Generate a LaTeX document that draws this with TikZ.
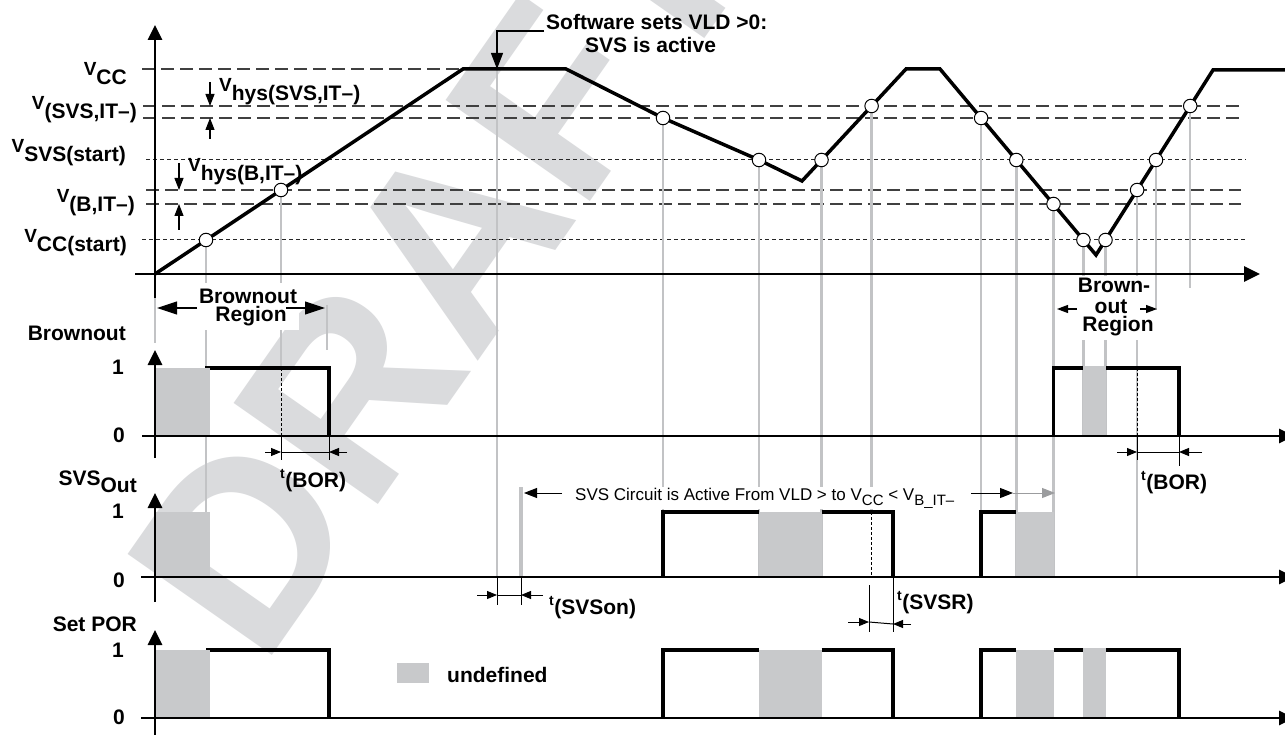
\documentclass[tikz,border=0pt]{standalone}
\usepackage{fontspec}
\setmainfont{Liberation Sans}
\usetikzlibrary{arrows.meta,calc}
\definecolor{ugray}{HTML}{C8C9CB}
\definecolor{lgray}{HTML}{C2C3C5}
\definecolor{wgray}{HTML}{DADBDD}
\newcommand\Vlab[1]{{\fontsize{19}{19}\selectfont V}\raisebox{-9pt}{#1}}
\newcommand\tlab[1]{\raisebox{9pt}{\fontsize{14}{14}\selectfont t}\kern0.5pt(#1)}
\begin{document}
\begin{tikzpicture}[x=1pt,y=-1pt,
  lbl/.style={font=\bfseries\fontsize{21}{21}\selectfont, inner sep=0pt},
  reg/.style={font=\fontsize{17}{17}\selectfont, inner sep=1pt},
  wave/.style={line width=3.5pt, line join=miter},
  sig/.style={line width=3.3pt, line join=miter},
  axisline/.style={line width=2.7pt, -{Triangle[length=15pt,width=14pt]}},
  lvl/.style={black!75, line width=1.3pt, dash pattern=on 13pt off 6pt},
  lvldot/.style={black!85, line width=1pt, dash pattern=on 4pt off 3pt},
  gl/.style={lgray, line width=2.4pt},
  tickline/.style={black, line width=1pt},
  dashedge/.style={black, line width=1pt, dash pattern=on 3pt off 2pt},
  cpt/.style={circle, draw=black, fill=white, line width=1pt, minimum size=13.5pt, inner sep=0pt},
  dimarrow/.style={line width=1pt, -{Triangle[length=10pt,width=8pt]}},
  hysarrow/.style={line width=1.1pt, -{Triangle[length=12pt,width=9pt]}},
  bigarrow/.style={line width=1.2pt, -{Triangle[length=20pt,width=13pt]}},
  smarrow/.style={line width=1.1pt, -{Triangle[length=11pt,width=8pt]}},
  carrow/.style={line width=1pt, -{Triangle[length=13pt,width=10pt]}},
]
\useasboundingbox (0,0) rectangle (1285,735);
\clip (0,0) rectangle (1285,735);
\fill[white] (0,0) rectangle (1285,735);
% watermark
\node[font=\bfseries\fontsize{256}{256}\selectfont, text=wgray, rotate=55, inner sep=0pt] (wm) at (439,264) {DRAFT};

% level coordinates
\coordinate (bo1) at (0,368); \coordinate (bo0) at (0,436);
\coordinate (sv1) at (0,512); \coordinate (sv0) at (0,577);
\coordinate (po1) at (0,650); \coordinate (po0) at (0,718);
% waveform vertices
\coordinate (w0) at (155,274); \coordinate (w1) at (463,69); \coordinate (w2) at (566,69);
\coordinate (w3) at (802,181); \coordinate (w4) at (906,69); \coordinate (w5) at (940,69);
\coordinate (w6) at (1096,255); \coordinate (w7) at (1213,70); \coordinate (w8) at (1295,70);
% crossing points
\coordinate (c1) at (206,240); \coordinate (c2) at (281,190);
\coordinate (c3) at (663,118); \coordinate (c4) at (759,160);
\coordinate (c5) at (821.5,160); \coordinate (c6) at (871.6,106);
\coordinate (c7) at (981.1,118); \coordinate (c8) at (1016.3,160);
\coordinate (c9) at (1053.5,204); \coordinate (c10) at (1083.4,240);
\coordinate (c11) at (1105.5,240); \coordinate (c12) at (1137.1,190);
\coordinate (c13) at (1156,160); \coordinate (c14) at (1190.2,106);
\coordinate (e13) at (0,310); \coordinate (e14) at (0,288);
\coordinate (swt) at (497,69); \coordinate (gb) at (210,0);
\coordinate (f0) at (329,0); \coordinate (f1) at (893,0); \coordinate (f2) at (1179,0);

% level lines
\draw[lvl] (142,69) -- (w1);
\draw[lvl] (143,106) -- (1241,106);
\draw[lvl] (143,118) -- (1241,118);
\draw[lvldot] (146,160) -- (1246,160);
\draw[lvl] (146,190) -- (1241,190);
\draw[lvl] (146,204) -- (1241,204);
\draw[lvldot] (142,240) -- (1246,240);

% gray guide lines
\foreach \c/\e in {c1/sv1, c2/bo1, c3/sv1, c4/sv0, c5/sv0, c6/sv1, c7/sv0, c8/sv0, c9/sv0, c10/bo0, c11/bo0, c12/sv0, c13/e13, c14/e14}
  \draw[gl] (\c) -- (\c |- \e);
\draw[gl] (swt) -- (swt |- sv0);
\draw[gl] (155,290) -- (155,343);
\draw[gl] (327,305) -- (327,350);
\draw[lgray, line width=4pt] (521,487) -- (521,577);

% white backgrounds of the region labels
\fill[white] (196,283) rectangle (299,330);
\fill[white] (1074,276) rectangle (1154,340);

% waveform
\draw[wave] (w0) -- (w1) -- (w2) -- (c3) -- (c4) -- (w3) -- (w4) -- (w5) -- (w6) -- (w7) -- (w8);
\foreach \c in {c1,c2,c3,c4,c5,c6,c7,c8,c9,c10,c11,c12,c13,c14}
  \node[cpt] (p\c) at (\c) {};

% hysteresis arrows
\coordinate (h1a) at (210,82); \coordinate (h1b) at (210,106);
\coordinate (h1c) at (210,139); \coordinate (h1d) at (210,118);
\coordinate (h2a) at (179,163); \coordinate (h2b) at (179,190);
\coordinate (h2c) at (179,230); \coordinate (h2d) at (179,204);
\draw[hysarrow] (h1a) -- (h1b);
\draw[hysarrow] (h1c) -- (h1d);
\draw[hysarrow] (h2a) -- (h2b);
\draw[hysarrow] (h2c) -- (h2d);

% software label and leader
\node[lbl, anchor=base west] (sw1) at (546,30) {Software sets VLD >0:};
\node[lbl, anchor=base west] (sw2) at (585,53) {SVS is active};
\coordinate (swl) at (544,31);
\draw[line width=1.1pt, -{Triangle[length=16pt,width=12pt]}] (swl) -- (swt |- swl) -- (swt);

% brownout region labels
\node[lbl, anchor=base] (br1) at (248,304) {Brownout};
\node[lbl, anchor=base] (br2) at (251,322) {Region};
\coordinate (bra) at (197,308); \coordinate (brat) at (157,308);
\coordinate (brb) at (286,308); \coordinate (brbt) at (325,308);
\draw[bigarrow] (bra) -- (brat);
\draw[bigarrow] (brb) -- (brbt);
\node[lbl, anchor=base] (bs1) at (1114,293) {Brown-};
\node[lbl, anchor=base] (bs2) at (1111,313) {out};
\node[lbl, anchor=base] (bs3) at (1118,331) {Region};
\coordinate (bsa) at (1077,309); \coordinate (bsat) at (1057,309);
\coordinate (bsb) at (1140,309); \coordinate (bsbt) at (1157,309);
\draw[smarrow] (bsa) -- (bsat);
\draw[smarrow] (bsb) -- (bsbt);

% Brownout signal
\draw[sig] (205,368) -- (f0 |- bo1) -- (f0 |- bo0);
\draw[sig] (c9 |- bo0) -- (c9 |- bo1) -- (f2 |- bo1) -- (f2 |- bo0);
\draw[dashedge] (c2 |- bo1) -- (c2 |- bo0);
\draw[dashedge] (c12 |- bo1) -- (c12 |- bo0);
\fill[ugray] (155,368) rectangle (gb |- bo0);
\fill[ugray] (c10 |- 0,366) rectangle (c11 |- bo0);

% SVSout signal
\draw[sig] (c3 |- sv0) -- (c3 |- sv1) -- (c4 |- sv1);
\draw[sig] (c5 |- sv1) -- (f1 |- sv1) -- (f1 |- sv0);
\draw[sig] (c7 |- sv0) -- (c7 |- sv1) -- (c8 |- sv1);
\draw[dashedge] (c6 |- sv1) -- (c6 |- sv0);
\fill[ugray] (155,512) rectangle (gb |- sv0);
\fill[ugray] (c4 |- sv1) rectangle (c5 |- sv0);
\fill[ugray] (c8 |- sv1) rectangle (c9 |- sv0);

% Set POR signal
\draw[sig] (206,650) -- (f0 |- po1) -- (f0 |- po0);
\draw[sig] (c3 |- po0) -- (c3 |- po1) -- (c4 |- po1);
\draw[sig] (c5 |- po1) -- (f1 |- po1) -- (f1 |- po0);
\draw[sig] (c7 |- po0) -- (c7 |- po1) -- (c8 |- po1);
\draw[sig] (c9 |- po1) -- (f2 |- po1) -- (f2 |- po0);
\fill[ugray] (155,650) rectangle (gb |- po0);
\fill[ugray] (c4 |- po1) rectangle (c5 |- po0);
\fill[ugray] (c8 |- po1) rectangle (c9 |- po0);
\fill[ugray] (c10 |- 0,648) rectangle (c11 |- po0);

% axes
\draw[axisline] (155,298) -- (155,25);
\draw[axisline, -{Triangle[length=16pt,width=15pt]}] (135,274) -- (1260,274);
\draw[axisline] (155,458) -- (155,350);
\draw[axisline] (142,436) -- (1294,436);
\draw[axisline] (155,602) -- (155,493);
\draw[axisline] (141,577) -- (1294,577);
\draw[axisline] (155,740) -- (155,630);
\draw[axisline] (141,718) -- (1294,718);

% t(BOR) left
\draw[tickline] (c2 |- bo0) -- (c2 |- 0,460);
\draw[tickline] (f0 |- bo0) -- (f0 |- 0,460);
\coordinate (tb1a) at (265,452); \coordinate (tb1b) at (281,452);
\coordinate (tb1c) at (347,452); \coordinate (tb1d) at (329,452);
\draw[dimarrow] (tb1a) -- (tb1b);
\draw[dimarrow] (tb1c) -- (tb1d);
\draw[tickline] (tb1b) -- (tb1d);
\node[lbl, anchor=base west] (tbor1) at (280,487) {\tlab{BOR}};
% t(BOR) right
\draw[tickline] (c12 |- bo0) -- (c12 |- 0,460);
\draw[tickline] (f2 |- bo0) -- (f2 |- 0,466);
\coordinate (tb2a) at (1117,452); \coordinate (tb2b) at (1137,452);
\coordinate (tb2c) at (1202,452); \coordinate (tb2d) at (1179,452);
\draw[dimarrow] (tb2a) -- (tb2b);
\draw[dimarrow] (tb2c) -- (tb2d);
\draw[tickline] (tb2b) -- (tb2d);
\node[lbl, anchor=base west] (tbor2) at (1141,489) {\tlab{BOR}};
% t(SVSon)
\draw[tickline] (swt |- sv0) -- (swt |- 0,605);
\draw[tickline] (521,577) -- (521,605);
\coordinate (ts1a) at (477,595); \coordinate (ts1b) at (497,595);
\coordinate (ts1c) at (543,595); \coordinate (ts1d) at (521,595);
\draw[dimarrow] (ts1a) -- (ts1b);
\draw[dimarrow] (ts1c) -- (ts1d);
\draw[tickline] (ts1b) -- (ts1d);
\node[lbl, anchor=base west] (tsvson) at (549,614) {\tlab{SVSon}};
% t(SVSR)
\draw[tickline] (869,585) -- (869,632);
\draw[tickline] (f1 |- sv0) -- (f1 |- 0,632);
\coordinate (ts2a) at (848,622); \coordinate (ts2b) at (869,622);
\coordinate (ts2c) at (911,624); \coordinate (ts2d) at (893,624);
\draw[dimarrow] (ts2a) -- (ts2b);
\draw[dimarrow] (ts2c) -- (ts2d);
\draw[tickline] (ts2b) -- (ts2d);
\node[lbl, anchor=base west] (tsvsr) at (897,609) {\tlab{SVSR}};

% SVS circuit annotation
\node[reg, anchor=base west, fill=white] (svsc) at (574,500) {SVS Circuit is Active From VLD > to V\raisebox{-5pt}{\fontsize{15}{15}\selectfont CC} < V\raisebox{-5pt}{\fontsize{15}{15}\selectfont B\_IT–}};
\coordinate (ca) at (562,493); \coordinate (cat) at (524,493);
\coordinate (cb) at (971,493); \coordinate (cbt) at (1013,493);
\coordinate (cct) at (1055,493);
\draw[carrow] (ca) -- (cat);
\draw[carrow] (cb) -- (cbt);
\draw[carrow, lgray!80!black] (cbt) -- (cct);

% left labels
\node[lbl, anchor=base east] (lVcc) at (127,76) {\Vlab{CC}};
\node[lbl, anchor=base east] (lVsvs) at (137,110) {\Vlab{(SVS,IT–)}};
\node[lbl, anchor=base east] (lVss) at (126,153) {\Vlab{SVS(start)}};
\node[lbl, anchor=base east] (lVb) at (135,203) {\Vlab{(B,IT–)}};
\node[lbl, anchor=base east] (lVcs) at (127,243) {\Vlab{CC(start)}};
\node[lbl, anchor=base west] (lh1) at (219,92) {\Vlab{hys(SVS,IT–)}};
\node[lbl, anchor=base west] (lh2) at (188,172) {\Vlab{hys(B,IT–)}};

\node[lbl, anchor=base east] (lbo) at (126,340) {Brownout};
\node[lbl, anchor=base east] (lsv) at (137,485) {SVS\raisebox{-7pt}{Out}};
\node[lbl, anchor=base east] (lpo) at (137,631) {Set POR};
\node[lbl, anchor=base east] (n1a) at (124,374) {1};
\node[lbl, anchor=base east] (n0a) at (125,442) {0};
\node[lbl, anchor=base east] (n1b) at (124,518) {1};
\node[lbl, anchor=base east] (n0b) at (125,587) {0};
\node[lbl, anchor=base east] (n1c) at (124,657) {1};
\node[lbl, anchor=base east] (n0c) at (125,724) {0};

% legend
\fill[ugray] (397,663) rectangle (429,683);
\node[lbl, anchor=base west] (leg) at (447,682) {undefined};
\end{tikzpicture}
\end{document}
